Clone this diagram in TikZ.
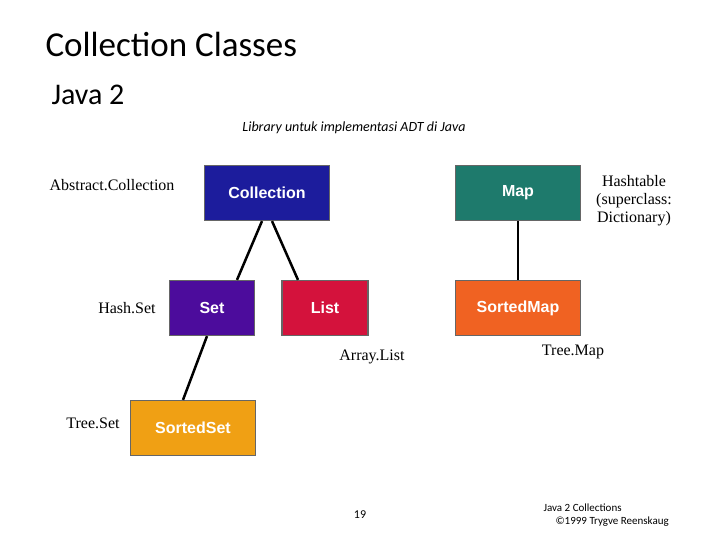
\documentclass[tikz,border=0pt]{standalone}
\usepackage{fontspec}
\setmainfont{Liberation Serif}
\newfontfamily\calib{Carlito}
\newfontfamily\arialb{Liberation Sans}
\usetikzlibrary{positioning, calc}
\definecolor{colblue}{HTML}{1C1C9C}
\definecolor{mapteal}{HTML}{1E7A6C}
\definecolor{setpurple}{HTML}{4C0C9C}
\definecolor{listred}{HTML}{D4123C}
\definecolor{smaporange}{HTML}{F06222}
\definecolor{ssetorange}{HTML}{F0A014}
\begin{document}
\begin{tikzpicture}[
        x=1pt, y=-1pt,
        classbox/.style={rectangle, draw=black!60, line width=1.2pt, minimum height=55pt,
            inner sep=0pt, text=white, font=\arialb\bfseries\fontsize{16}{18}\selectfont},
        link/.style={line width=2.5pt, black},
        lbl/.style={font=\fontsize{16}{18}\selectfont, align=center},
    ]
    \useasboundingbox (0,0) rectangle (720,540);

    % titles
    \node[anchor=base west, font=\calib\fontsize{35}{40}\selectfont] (title) at (42,57) {Collection Classes};
    \node[anchor=base west, font=\calib\fontsize{30}{34}\selectfont] (sub) at (48,105) {Java 2};
    \node[font=\calib\itshape\fontsize{14}{16}\selectfont] (lib) at (354,128) {Library untuk implementasi ADT di Java};

    % class boxes
    \node[classbox, fill=colblue, minimum width=125pt] (Collection) at (267,193) {Collection};
    \node[classbox, fill=mapteal, minimum width=125pt] (Map) at (518,193) {Map};
    \node[classbox, fill=setpurple, minimum width=85pt] (Set) at (212,308) {Set};
    \node[classbox, fill=listred, minimum width=86pt] (List) at (325,308) {List};
    \node[classbox, fill=smaporange, minimum width=125pt] (SortedMap) at (518,308) {SortedMap};
    \node[classbox, fill=ssetorange, minimum width=125pt] (SortedSet) at (193,428) {SortedSet};

    % links
    \draw[link] ([xshift=-5pt]Collection.south) -- ([xshift=25pt]Set.north);
    \draw[link] ([xshift=5pt]Collection.south) -- ([xshift=-27pt]List.north);
    \draw[link] (Map.south) -- (SortedMap.north);
    \draw[link] ([xshift=-5pt]Set.south) -- ([xshift=-10pt]SortedSet.north);

    % implementation labels
    \node[lbl] (abscoll) at (112,185) {Abstract.Collection};
    \node[lbl, text width=100pt] (hashtable) at (634,201) {Hashtable\\(superclass:\\Dictionary)};
    \node[lbl] (hashset) at (127,308) {Hash.Set};
    \node[lbl] (arraylist) at (372,357) {Array.List};
    \node[lbl] (treemap) at (573,352) {Tree.Map};
    \node[lbl] (treeset) at (93,423) {Tree.Set};

    % footer
    \node[font=\calib\fontsize{12}{14}\selectfont] (page) at (360,515) {19};
    \node[font=\calib\fontsize{11}{13}\selectfont, align=left, anchor=north west] (foot) at (540,500)
        {Java 2 Collections\\\hspace*{12pt}\textcopyright1999 Trygve Reenskaug};
\end{tikzpicture}
\end{document}
